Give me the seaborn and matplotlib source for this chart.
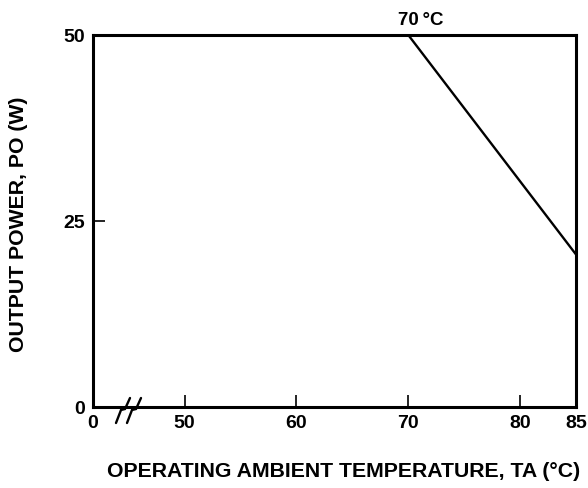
import matplotlib
matplotlib.use("Agg")
import matplotlib.pyplot as plt
import seaborn as sns
import pandas as pd

# Data
temp_c = [70, 85]
power_w = [50, 20.5]
x_ticks = [41.8, 50, 60, 70, 80, 85]
x_ticklabels = ["0", "50", "60", "70", "80", "85"]
y_ticks = [0, 25, 50]
y_ticklabels = ["0", "25", "50"]

sns.set_theme(style="white")
plt.rcParams['font.family'] = ['Liberation Sans', 'DejaVu Sans']

fig = plt.figure(figsize=(5.88, 4.88), dpi=100)
# axes box: left 93px, right 576px, top 35px, bottom 407px
L, R, T, B = 93, 576, 35, 407
W, H = 588, 488
ax = fig.add_axes([L / W, 1 - B / H, (R - L) / W, (B - T) / H])

df = pd.DataFrame({"T": temp_c, "P": power_w})
sns.lineplot(data=df, x="T", y="P", ax=ax, color="black", linewidth=1.7)

ax.set_xlim(41.8, 85)
ax.set_ylim(0, 50)
ax.set_xticks(x_ticks)
ax.set_xticklabels(x_ticklabels)
ax.set_yticks(y_ticks)
ax.set_yticklabels(y_ticklabels)
for s in ax.spines.values():
    s.set_visible(True)
    s.set_color("black")
    s.set_linewidth(2.2)
ax.tick_params(axis="both", direction="in", length=8.5, width=1.2, colors="black",
               labelcolor="black", labelsize=14, pad=6, bottom=True, left=True)
for lbl in ax.get_xticklabels() + ax.get_yticklabels():
    lbl.set_fontweight("bold")

ax.set_xlabel("OPERATING AMBIENT TEMPERATURE, TA (°C)", fontsize=15.3,
              fontweight="bold", color="black")
ax.set_ylabel("OUTPUT POWER, PO (W)", fontsize=15.3, fontweight="bold", color="black")
ax.xaxis.set_label_coords((344 - L) / (R - L), -(462 - B) / (B - T))
ax.yaxis.set_label_coords(-(L - 28) / (R - L), (B - 224) / (B - T))

# Top annotation
ax.text(69.05, 51.35, "70\u2009°C", ha="left", va="baseline", fontsize=13.5,
        fontweight="bold", color="black")

# Axis break symbol (pixel offsets converted to axes fraction)
def px(xp, yp):
    return (xp - L) / (R - L), (B - yp) / (B - T)

for dx in [0, 11]:
    pts = [px(116 + dx, 423), px(121 + dx, 410), px(125 + dx, 409), px(130 + dx, 398)]
    xs, ys = zip(*pts)
    ax.plot(xs, ys, color="black", lw=1.7, transform=ax.transAxes, clip_on=False,
            solid_joinstyle="miter")

fig.savefig("out.png", dpi=100)
